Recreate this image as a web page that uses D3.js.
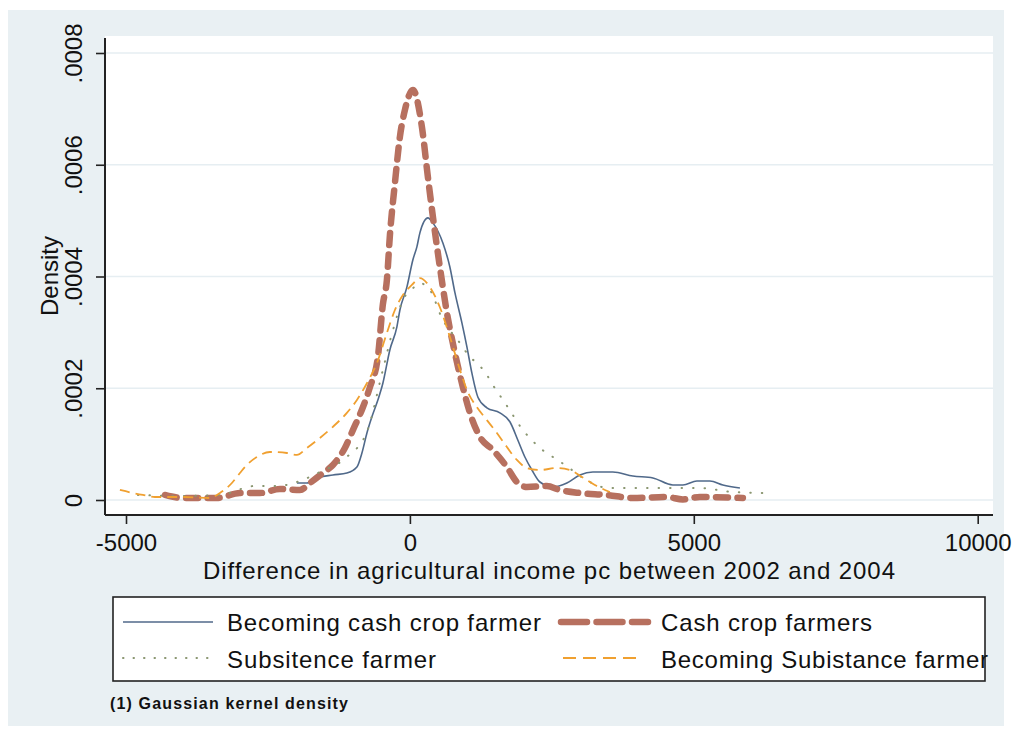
<!DOCTYPE html>
<html>
<head>
<meta charset="utf-8">
<script src="https://cdn.jsdelivr.net/npm/d3@7/dist/d3.min.js"></script>
<style>
  body { margin: 0; background: #fff; }
  text { font-family: "Liberation Sans", Arial, sans-serif; fill: #111; }
</style>
</head>
<body>
<div id="chart"></div>
<script>
// --- data (x = income difference, y = density) ---
const xTicks = [-5000, 0, 5000, 10000];
const xTickLabels = ['-5000', '0', '5000', '10000'];
const yTicks = [0, 0.0002, 0.0004, 0.0006, 0.0008];
const yTickLabels = ['0', '.0002', '.0004', '.0006', '.0008'];

const becomingCash = [
  [-1990, 0.0000304], [-1814, 0.0000304], [-1638, 0.0000394], [-1356, 0.0000448],
  [-1110, 0.0000483], [-933, 0.0000591], [-845, 0.0000841], [-757, 0.000120],
  [-669, 0.000149], [-564, 0.000179], [-476, 0.000209], [-352, 0.000269],
  [-229, 0.000310], [-176, 0.000340], [-53, 0.000381], [53, 0.000430],
  [123, 0.000453], [176, 0.000478], [317, 0.000505], [405, 0.000496],
  [581, 0.000460], [704, 0.000417], [793, 0.000371], [916, 0.000317],
  [1004, 0.000274], [1092, 0.000227], [1198, 0.000184], [1356, 0.000165],
  [1585, 0.000156], [1761, 0.000140], [1902, 0.000107], [2025, 0.0000770],
  [2149, 0.0000537], [2290, 0.0000322], [2518, 0.0000233], [2765, 0.0000304],
  [2994, 0.0000448], [3223, 0.0000501], [3575, 0.0000501], [3927, 0.0000430],
  [4280, 0.0000394], [4632, 0.0000269], [4808, 0.0000269], [5055, 0.0000340],
  [5284, 0.0000340], [5512, 0.0000269], [5812, 0.0000215]
];

const cashCrop = [
  [-4315, 0.0000090], [-3998, 0.0000036], [-3399, 0.0000036], [-2994, 0.0000125],
  [-2642, 0.0000125], [-2290, 0.0000197], [-1937, 0.0000179], [-1761, 0.0000304],
  [-1532, 0.0000483], [-1356, 0.0000627], [-1145, 0.0000931], [-1004, 0.000125],
  [-828, 0.000166], [-704, 0.000202], [-564, 0.000256], [-476, 0.000350],
  [-405, 0.000394], [-352, 0.000474], [-264, 0.000567], [-176, 0.000650],
  [-88, 0.000698], [53, 0.000734], [211, 0.000668], [317, 0.000578],
  [405, 0.000507], [528, 0.000417], [652, 0.000335], [793, 0.000263],
  [933, 0.000202], [1057, 0.000156], [1233, 0.000113], [1462, 0.0000895],
  [1708, 0.0000591], [1884, 0.0000322], [2061, 0.0000233], [2413, 0.0000251],
  [2642, 0.0000179], [2994, 0.0000125], [3470, 0.0000090], [3927, 0.0000036],
  [4526, 0.0000054], [4808, 0.0000010], [5107, 0.0000054], [5865, 0.0000036]
];

const subsistence = [
  [-4790, 0.0000090], [-3998, 0.0000072], [-3346, 0.0000090], [-2730, 0.0000251],
  [-2325, 0.0000251], [-1937, 0.0000340], [-1585, 0.0000501], [-1110, 0.0000770],
  [-757, 0.000122], [-476, 0.000233], [-299, 0.000304], [-123, 0.000358],
  [53, 0.000379], [176, 0.000388], [352, 0.000376], [581, 0.000322],
  [740, 0.000299], [881, 0.000281], [1057, 0.000256], [1180, 0.000245],
  [1321, 0.000229], [1497, 0.000200], [1673, 0.000174], [1814, 0.000152],
  [1990, 0.000125], [2113, 0.000111], [2290, 0.0000931], [2518, 0.0000770],
  [2783, 0.0000591], [2994, 0.0000430], [3205, 0.0000304], [3487, 0.0000215],
  [4227, 0.0000215], [5107, 0.0000215], [5688, 0.0000143], [6287, 0.0000125]
];

const becomingSubsistence = [
  [-5107, 0.0000179], [-4878, 0.0000125], [-4702, 0.0000090], [-4491, 0.0000054],
  [-3998, 0.0000054], [-3522, 0.0000036], [-3346, 0.0000125], [-3135, 0.0000304],
  [-2994, 0.0000483], [-2871, 0.0000627], [-2695, 0.0000770], [-2466, 0.0000859],
  [-2166, 0.0000841], [-1990, 0.0000806], [-1814, 0.0000931], [-1585, 0.000111],
  [-1356, 0.000131], [-1110, 0.000156], [-933, 0.000179], [-757, 0.000209],
  [-581, 0.000245], [-405, 0.000299], [-264, 0.000340], [-123, 0.000367],
  [35, 0.000385], [176, 0.000397], [352, 0.000381], [528, 0.000345],
  [704, 0.000292], [881, 0.000233], [1004, 0.000197], [1180, 0.000166],
  [1356, 0.000143], [1532, 0.000120], [1708, 0.0000949], [1884, 0.0000716],
  [2061, 0.0000573], [2290, 0.0000537], [2589, 0.0000573], [2818, 0.0000537],
  [3029, 0.0000412], [3258, 0.0000269], [3522, 0.0000143]
];

const seriesNames = ['Becoming cash crop farmer', 'Cash crop farmers', 'Subsitence farmer', 'Becoming Subistance farmer'];

// --- styles (Stata s2color-like) ---
const styles = [
  { data: becomingCash, color: '#50698a', width: 1.6, dash: null, legendDash: null, cap: 'butt' },
  { data: cashCrop, color: '#b7705f', width: 6.5, dash: '12,9.5', legendDash: '26,9.5', cap: 'round' },
  { data: subsistence, color: '#8a9670', width: 2, dash: '0.5,11', legendDash: '0.5,10', cap: 'round' },
  { data: becomingSubsistence, color: '#f0a030', width: 1.8, dash: '10,6', legendDash: '13,7', cap: 'butt' }
];

const width = 1012, height = 736;
const svg = d3.select('#chart').append('svg')
  .attr('width', width)
  .attr('height', height);

// graph region + plot region
svg.append('rect').attr('x', 8).attr('y', 10).attr('width', 996).attr('height', 716).attr('fill', '#e9f0f3');
const plot = { left: 105, right: 993, top: 36, bottom: 515 };
svg.append('rect')
  .attr('x', plot.left).attr('y', plot.top)
  .attr('width', plot.right - plot.left).attr('height', plot.bottom - plot.top)
  .attr('fill', '#fff');

const x = d3.scaleLinear().domain([-5000, 10000]).range([126, 977.7]);
const y = d3.scaleLinear().domain([0, 0.0008]).range([500, 53]);

// gridlines
svg.append('g').selectAll('line').data(yTicks).join('line')
  .attr('x1', plot.left).attr('x2', plot.right)
  .attr('y1', d => y(d)).attr('y2', d => y(d))
  .attr('stroke', '#e6eef2').attr('stroke-width', 1.6);

// curves
const line = d3.line().x(d => x(d[0])).y(d => y(d[1])).curve(d3.curveMonotoneX);
styles.forEach(s => {
  svg.append('path')
    .datum(s.data)
    .attr('d', line)
    .attr('fill', 'none')
    .attr('stroke', s.color)
    .attr('stroke-width', s.width)
    .attr('stroke-linecap', s.cap)
    .attr('stroke-linejoin', 'round')
    .attr('stroke-dasharray', s.dash);
});

// axes
const xAxis = svg.append('g').attr('transform', `translate(0,${plot.bottom})`)
  .call(d3.axisBottom(x).tickValues(xTicks).tickSize(9).tickFormat((d, i) => xTickLabels[i]));
xAxis.select('.domain').attr('d', `M${plot.left},0H${plot.right}`).attr('stroke', '#222').attr('stroke-width', 2);
xAxis.selectAll('.tick line').attr('stroke', '#222').attr('stroke-width', 1.6);
xAxis.selectAll('.tick text')
  .attr('font-size', 24).attr('font-family', '"Liberation Sans", Arial, sans-serif').attr('fill', '#111')
  .attr('dy', null).attr('y', 36);

const yAxis = svg.append('g').attr('transform', `translate(${plot.left},0)`)
  .call(d3.axisLeft(y).tickValues(yTicks).tickSize(9).tickFormat((d, i) => yTickLabels[i]));
yAxis.select('.domain').attr('d', `M0,38V${plot.bottom}`).attr('stroke', '#222').attr('stroke-width', 2);
yAxis.selectAll('.tick line').attr('stroke', '#222').attr('stroke-width', 1.6);
yAxis.selectAll('.tick text')
  .attr('font-size', 24).attr('font-family', '"Liberation Sans", Arial, sans-serif').attr('fill', '#111')
  .attr('x', null).attr('dy', null)
  .attr('text-anchor', 'middle')
  .attr('transform', 'translate(-22,0) rotate(-90) translate(0,-1)');

// axis titles
svg.append('text')
  .attr('x', 549).attr('y', 579)
  .attr('text-anchor', 'middle')
  .attr('font-size', 24)
  .attr('textLength', 692).attr('lengthAdjust', 'spacing')
  .text('Difference in agricultural income pc  between 2002 and 2004');

svg.append('text')
  .attr('transform', 'translate(58,276) rotate(-90)')
  .attr('text-anchor', 'middle')
  .attr('font-size', 24)
  .text('Density');

// legend
const legend = svg.append('g');
legend.append('rect')
  .attr('x', 113).attr('y', 597).attr('width', 872).attr('height', 84)
  .attr('fill', '#fff').attr('stroke', '#222').attr('stroke-width', 1.6);

const legendPos = [
  { sx: [123, 213], tx: 227, ly: 622, ty: 631, tl: 314 },
  { sx: [561, 648], tx: 661, ly: 622, ty: 631, tl: 211 },
  { sx: [123, 213], tx: 227, ly: 658, ty: 668, tl: 209 },
  { sx: [563, 643], tx: 661, ly: 658, ty: 668, tl: 327 }
];
styles.forEach((s, i) => {
  const p = legendPos[i];
  legend.append('line')
    .attr('x1', p.sx[0]).attr('x2', p.sx[1])
    .attr('y1', p.ly).attr('y2', p.ly)
    .attr('stroke', s.color)
    .attr('stroke-width', s.width)
    .attr('stroke-linecap', s.cap)
    .attr('stroke-dasharray', s.legendDash);
  legend.append('text')
    .attr('x', p.tx).attr('y', p.ty)
    .attr('font-size', 24)
    .attr('textLength', p.tl).attr('lengthAdjust', 'spacing')
    .text(seriesNames[i]);
});

// note
svg.append('text')
  .attr('x', 110).attr('y', 709)
  .attr('font-size', 16)
  .attr('font-weight', 'bold')
  .attr('textLength', 238).attr('lengthAdjust', 'spacing')
  .text('(1) Gaussian kernel density');
</script>
</body>
</html>
